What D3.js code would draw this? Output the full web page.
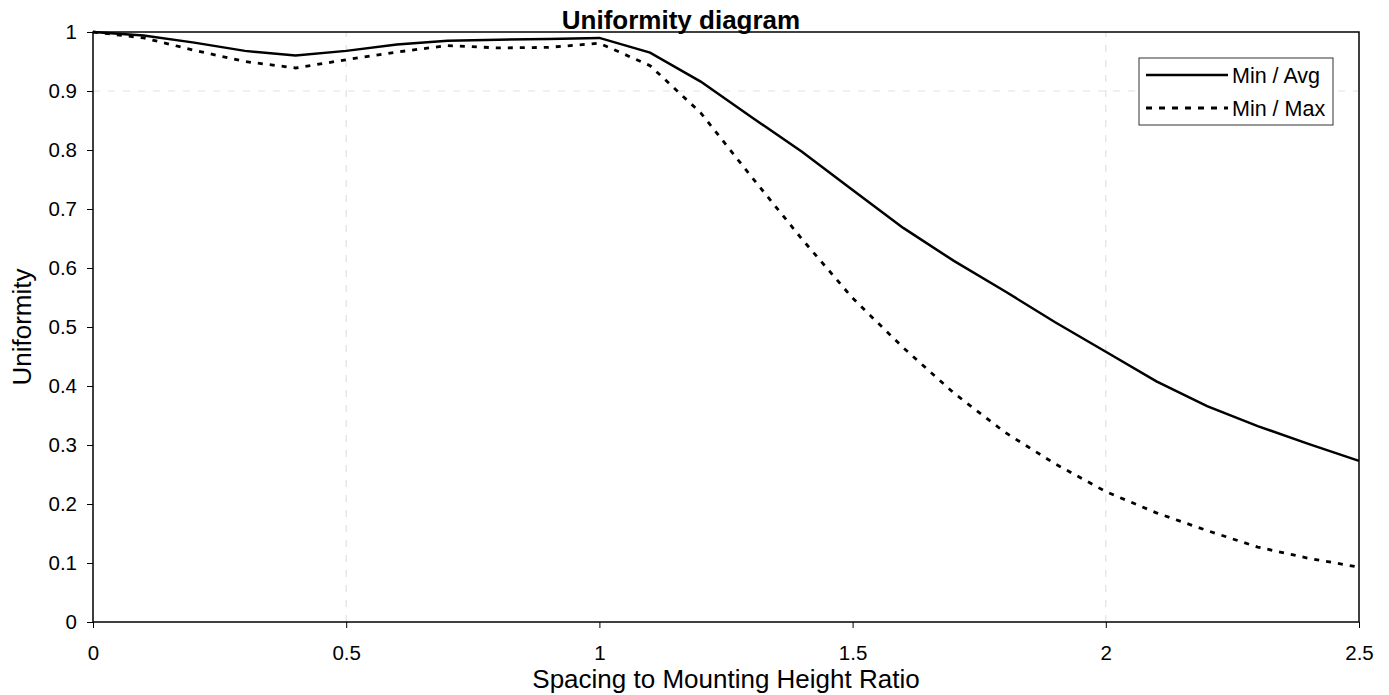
<!DOCTYPE html>
<html>
<head>
<meta charset="utf-8">
<script src="https://cdn.jsdelivr.net/npm/d3@7"></script>
<style>
  body { margin: 0; background: #fff; }
  text { font-family: "Liberation Sans", Arial, sans-serif; }
</style>
</head>
<body>
<svg id="chart" width="1389" height="695"></svg>
<script>
const ratios = [0,0.1,0.2,0.3,0.4,0.5,0.6,0.7,0.8,0.9,1.0,1.1,1.2,1.3,1.4,1.5,1.6,1.7,1.8,1.9,2.0,2.1,2.2,2.3,2.4,2.5];
const minAvg = [1.0,0.994,0.982,0.968,0.960,0.968,0.979,0.985,0.987,0.988,0.990,0.965,0.916,0.856,0.797,0.732,0.668,0.612,0.561,0.508,0.458,0.408,0.366,0.332,0.302,0.273];
const minMax = [1.0,0.990,0.969,0.950,0.939,0.953,0.966,0.977,0.973,0.974,0.981,0.943,0.863,0.755,0.649,0.549,0.465,0.388,0.322,0.268,0.221,0.185,0.155,0.127,0.108,0.093];
const seriesNames = ["Min / Avg", "Min / Max"];
const xTicks = [0,0.5,1,1.5,2,2.5];
const yTicks = [0,0.1,0.2,0.3,0.4,0.5,0.6,0.7,0.8,0.9,1];
const xGrid = [0.5, 2];
const yGrid = [0.9];

const svg = d3.select("#chart");
const m = {left: 93, right: 1389-1359, top: 32, bottom: 695-622};
const W = 1389, H = 695;
const x = d3.scaleLinear().domain([0,2.5]).range([m.left, W-m.right]);
const y = d3.scaleLinear().domain([0,1]).range([H-m.bottom, m.top]);

// grid
svg.append("g").selectAll("line").data(xGrid).join("line")
  .attr("x1", d=>x(d)).attr("x2", d=>x(d)).attr("y1", y(0)).attr("y2", y(1))
  .attr("stroke", "#e2e2e2").attr("stroke-width", 1.2).attr("stroke-dasharray", "7,8");
svg.append("g").selectAll("line").data(yGrid).join("line")
  .attr("y1", d=>y(d)).attr("y2", d=>y(d)).attr("x1", x(0)).attr("x2", x(2.5))
  .attr("stroke", "#e2e2e2").attr("stroke-width", 1.2).attr("stroke-dasharray", "7,8");

// axes
const xAxis = d3.axisBottom(x).tickValues(xTicks).tickFormat(d3.format("")).tickSize(6).tickPadding(17);
const yAxis = d3.axisLeft(y).tickValues(yTicks).tickFormat(d3.format("")).tickSize(6).tickPadding(10);
const gx = svg.append("g").attr("transform", `translate(0,${y(0)})`).call(xAxis);
const gy = svg.append("g").attr("transform", `translate(${x(0)},0)`).call(yAxis);
[gx, gy].forEach(g => {
  g.select(".domain").remove();
  g.selectAll(".tick line").attr("stroke", "#000").attr("stroke-width", 1);
  g.selectAll(".tick text").attr("font-size", 20.5).attr("fill", "#000")
   .attr("font-family", "'Liberation Sans', Arial, sans-serif");
});

// frame
svg.append("rect").attr("x", x(0)).attr("y", y(1)).attr("width", x(2.5)-x(0)).attr("height", y(0)-y(1))
  .attr("fill", "none").attr("stroke", "#000").attr("stroke-width", 1.5);

// lines
const line = vals => d3.line().x((d,i)=>x(ratios[i])).y(d=>y(d))(vals);
svg.append("path").attr("d", line(minAvg)).attr("fill","none").attr("stroke","#000").attr("stroke-width",2.5);
svg.append("path").attr("d", line(minMax)).attr("fill","none").attr("stroke","#000").attr("stroke-width",2.8)
  .attr("stroke-dasharray","5,7");

// title
svg.append("text").attr("x", 681).attr("y", 29).attr("text-anchor","middle")
  .attr("font-size", 26).attr("font-weight","bold").text("Uniformity diagram");

// axis titles
svg.append("text").attr("x", (x(0)+x(2.5))/2).attr("y", 688).attr("text-anchor","middle")
  .attr("font-size", 26).text("Spacing to Mounting Height Ratio");
svg.append("text").attr("transform", `translate(31,327) rotate(-90)`).attr("text-anchor","middle")
  .attr("font-size", 26).text("Uniformity");

// legend
const lg = svg.append("g");
lg.append("rect").attr("x",1139).attr("y",58).attr("width",194).attr("height",67)
  .attr("fill","#fff").attr("stroke","#333").attr("stroke-width",1);
const dashes = [null, "6,7"];
seriesNames.forEach((name,i) => {
  const ly = 75 + i*33;
  lg.append("line").attr("x1",1146).attr("x2",1228).attr("y1",ly).attr("y2",ly)
    .attr("stroke","#000").attr("stroke-width",i? 2.8 : 2.5).attr("stroke-dasharray", dashes[i]);
  lg.append("text").attr("x",1232).attr("y",ly+7.5).attr("font-size",21.5).text(name);
});
</script>
</body>
</html>
